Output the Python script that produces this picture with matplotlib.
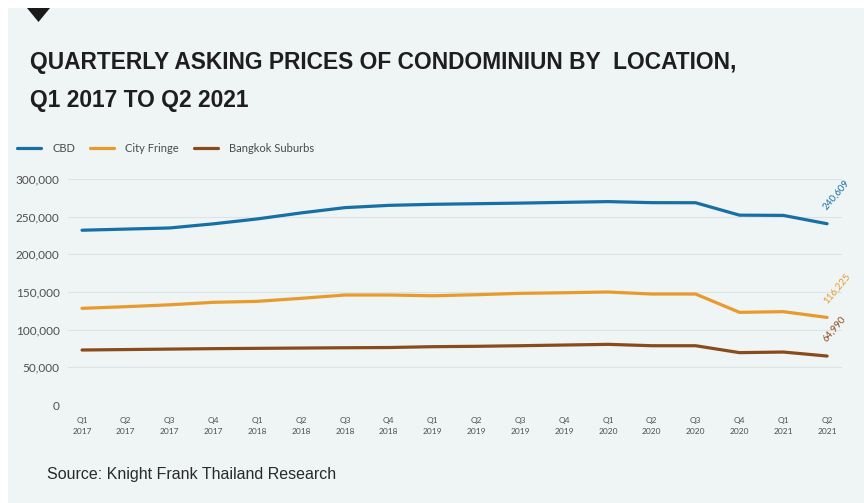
import matplotlib.pyplot as plt
from matplotlib.patches import Polygon, Rectangle
from matplotlib.ticker import FuncFormatter

quarters = ["Q1\n2017", "Q2\n2017", "Q3\n2017", "Q4\n2017",
            "Q1\n2018", "Q2\n2018", "Q3\n2018", "Q4\n2018",
            "Q1\n2019", "Q2\n2019", "Q3\n2019", "Q4\n2019",
            "Q1\n2020", "Q2\n2020", "Q3\n2020", "Q4\n2020",
            "Q1\n2021", "Q2\n2021"]

cbd = [232000, 233500, 235000, 240500, 247000, 255000, 262000, 265000, 266400,
       267200, 268000, 269000, 270000, 268600, 268500, 252000, 251700, 240609]
city_fringe = [128300, 130500, 133000, 136300, 137600, 141600, 146000, 146000, 145000,
               146400, 148200, 149000, 150000, 147300, 147300, 123000, 123900, 116225]
suburbs = [73000, 73600, 74200, 74800, 75200, 75600, 76000, 76300, 77400,
           77900, 78700, 79600, 80500, 78700, 78700, 69500, 70300, 64990]

series = [
    ("CBD", cbd, "#1670a6"),
    ("City Fringe", city_fringe, "#e99a2c"),
    ("Bangkok Suburbs", suburbs, "#8a4b1c"),
]

W, H = 864, 503
fig = plt.figure(figsize=(W / 100, H / 100), dpi=100)
fig.patch.set_facecolor("white")

# light panel behind everything plus the marker triangle at the top
fig.patches.append(Rectangle((8 / W, 0), 1 - 8 / W, 1 - 8 / H, transform=fig.transFigure,
                             facecolor="#eff4f4", edgecolor="none", zorder=-10))
fig.patches.append(Polygon([(27 / W, 1 - 8 / H), (50 / W, 1 - 8 / H), (38.5 / W, 1 - 22 / H)],
                           closed=True, transform=fig.transFigure,
                           facecolor="#1a1a1a", edgecolor="none", zorder=-5))

title_kw = dict(family="Liberation Sans", weight="bold", fontsize=16.4, color="#1e1e1e", va="center")
fig.text(30 / W, 1 - 63 / H, "QUARTERLY ASKING PRICES OF CONDOMINIUN BY  LOCATION,", **title_kw)
fig.text(30 / W, 1 - 100 / H, "Q1 2017 TO Q2 2021", **title_kw)
fig.text(47 / W, 1 - 475 / H, "Source: Knight Frank Thailand Research",
         family="Liberation Sans", fontsize=11.5, color="#2a2a2a", va="center")

ax = fig.add_axes([68 / W, 1 - 405 / H, (842 - 68) / W, (405 - 179) / H])
ax.set_facecolor("none")

x = list(range(len(quarters)))
for name, vals, color in series:
    ax.plot(x, vals, color=color, lw=2.3, label=name, solid_capstyle="round")
    ax.annotate(f"{vals[-1]:,}", (x[-1], vals[-1]), xytext=(1, 9), textcoords="offset points",
                rotation=50, rotation_mode="anchor", ha="left", va="bottom",
                fontsize=7, family="Lato", color=color, annotation_clip=False)

ax.set_xlim(-0.32, len(quarters) - 1 + 0.34)
ax.set_ylim(0, 300000)
ax.set_yticks(range(0, 300001, 50000))
ax.yaxis.set_major_formatter(FuncFormatter(lambda v, p: f"{int(v):,}"))
ax.set_xticks(x)
ax.set_xticklabels(quarters, linespacing=1.65)
ax.grid(axis="y", color="#dde3e4", lw=0.8)
ax.set_axisbelow(True)
for s in ax.spines.values():
    s.set_visible(False)
ax.tick_params(axis="y", length=0, pad=6, labelsize=8.5, labelcolor="#4f4f4f")
ax.tick_params(axis="x", length=0, pad=9, labelsize=6, labelcolor="#4f4f4f")
for lab in ax.get_xticklabels() + ax.get_yticklabels():
    lab.set_family("Lato")

leg = fig.legend(loc="center left", bbox_to_anchor=(17 / W, 1 - 148 / H), ncol=3,
                 frameon=False, borderpad=0, borderaxespad=0, handlelength=2.2,
                 handletextpad=1.0, columnspacing=1.3, prop={"family": "Lato", "size": 8})
for t in leg.get_texts():
    t.set_color("#4a4a4a")

fig.savefig("out.png", dpi=100)
